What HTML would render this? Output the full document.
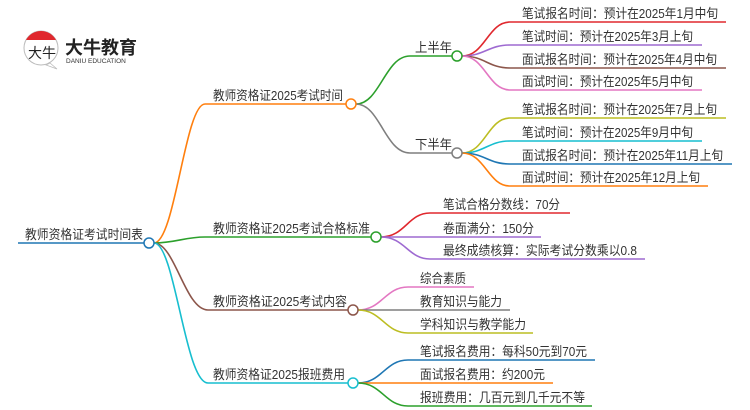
<!DOCTYPE html>
<html><head><meta charset="utf-8"><style>
html,body{margin:0;padding:0;background:#fff;}
svg{display:block;}
text{font-family:"Liberation Sans","Noto Sans CJK SC",sans-serif;fill:#333;}
</style></head><body>
<svg width="750" height="410" viewBox="0 0 750 410" xmlns="http://www.w3.org/2000/svg">
<!-- logo -->
<circle cx="41" cy="48" r="17" fill="#fff" stroke="#bbb" stroke-width="1"/>
<path d="M26,40 A17,17 0 0 1 56,40 Z" fill="#e0282e"/>
<path d="M50,63 L57,69 L46,65 Z" fill="#fff" stroke="#bbb" stroke-width="0.8"/>
<text x="28" y="58" font-size="14" style="fill:#222">大牛</text>
<text x="65" y="54" font-size="18" font-weight="bold" style="fill:#222">大牛教育</text>
<text x="66" y="63" font-size="6.5" style="fill:#333">DANIU EDUCATION</text>

<g fill="none" stroke-width="1.6">
<path d="M18,243 H144" stroke="#1f77b4"/>
<path d="M154,243 C175,243 185,104 205,104 H346" stroke="#ff7f0e"/>
<path d="M154,243 C175,243 185,237 205,237 H371" stroke="#2ca02c"/>
<path d="M154,243 C175,243 185,310 208,310 H348" stroke="#8c564b"/>
<path d="M154,243 C175,243 185,383 208,383 H348" stroke="#17becf"/>
<path d="M356,104 C380,104 385,56 410,56 H452" stroke="#2ca02c"/>
<path d="M356,104 C380,104 385,153 410,153 H452" stroke="#7f7f7f"/>
<path d="M462,56 C485,56 488,22 510,22 H726" stroke="#e0282e"/>
<path d="M462,56 C485,56 488,45 510,45 H702" stroke="#9e6ad1"/>
<path d="M462,56 C485,56 488,68 510,68 H726" stroke="#8c564b"/>
<path d="M462,56 C485,56 488,90 510,90 H702" stroke="#e377c2"/>
<path d="M462,153 C485,153 488,118 510,118 H726" stroke="#bcbd22"/>
<path d="M462,153 C485,153 488,141 510,141 H702" stroke="#17becf"/>
<path d="M462,153 C485,153 488,164 510,164 H732" stroke="#1f77b4"/>
<path d="M462,153 C485,153 488,186 510,186 H708" stroke="#ff7f0e"/>
<path d="M381,237 C405,237 408,213 430,213 H570" stroke="#e0282e"/>
<path d="M381,237 H541" stroke="#9e6ad1"/>
<path d="M381,237 C405,237 408,259 430,259 H645" stroke="#9e6ad1"/>
<path d="M358,310 C382,310 385,287 408,287 H474" stroke="#e377c2"/>
<path d="M358,310 H510" stroke="#7f7f7f"/>
<path d="M358,310 C382,310 385,333 408,333 H533" stroke="#bcbd22"/>
<path d="M358,383 C382,383 385,360 408,360 H595" stroke="#1f77b4"/>
<path d="M358,383 H553" stroke="#ff7f0e"/>
<path d="M358,383 C382,383 385,406 408,406 H592" stroke="#2ca02c"/>
</g>
<g fill="#fff" stroke-width="1.5">
<circle cx="149" cy="243" r="5" stroke="#1f77b4"/>
<circle cx="351" cy="104" r="5" stroke="#ff7f0e"/>
<circle cx="376" cy="237" r="5" stroke="#2ca02c"/>
<circle cx="353" cy="310" r="5" stroke="#8c564b"/>
<circle cx="353" cy="383" r="5" stroke="#17becf"/>
<circle cx="457" cy="56" r="5" stroke="#2ca02c"/>
<circle cx="457" cy="153" r="5" stroke="#7f7f7f"/>
</g>
<g font-size="13" lengthAdjust="spacingAndGlyphs">
<text x="25" y="239" textLength="118" lengthAdjust="spacingAndGlyphs">教师资格证考试时间表</text>
<text x="213" y="100" textLength="130" lengthAdjust="spacingAndGlyphs">教师资格证2025考试时间</text>
<text x="213" y="233" textLength="157" lengthAdjust="spacingAndGlyphs">教师资格证2025考试合格标准</text>
<text x="213" y="306" textLength="134" lengthAdjust="spacingAndGlyphs">教师资格证2025考试内容</text>
<text x="213" y="379" textLength="132" lengthAdjust="spacingAndGlyphs">教师资格证2025报班费用</text>
<text x="415" y="52" textLength="37" lengthAdjust="spacingAndGlyphs">上半年</text>
<text x="415" y="149" textLength="37" lengthAdjust="spacingAndGlyphs">下半年</text>
<text x="522" y="18" textLength="196" lengthAdjust="spacingAndGlyphs">笔试报名时间：预计在2025年1月中旬</text>
<text x="522" y="41" textLength="171" lengthAdjust="spacingAndGlyphs">笔试时间：预计在2025年3月上旬</text>
<text x="522" y="64" textLength="195" lengthAdjust="spacingAndGlyphs">面试报名时间：预计在2025年4月中旬</text>
<text x="522" y="86" textLength="171" lengthAdjust="spacingAndGlyphs">面试时间：预计在2025年5月中旬</text>
<text x="522" y="114" textLength="195" lengthAdjust="spacingAndGlyphs">笔试报名时间：预计在2025年7月上旬</text>
<text x="522" y="137" textLength="171" lengthAdjust="spacingAndGlyphs">笔试时间：预计在2025年9月中旬</text>
<text x="522" y="160" textLength="201" lengthAdjust="spacingAndGlyphs">面试报名时间：预计在2025年11月上旬</text>
<text x="522" y="182" textLength="178" lengthAdjust="spacingAndGlyphs">面试时间：预计在2025年12月上旬</text>
<text x="443" y="209" textLength="117" lengthAdjust="spacingAndGlyphs">笔试合格分数线：70分</text>
<text x="443" y="233" textLength="91" lengthAdjust="spacingAndGlyphs">卷面满分：150分</text>
<text x="443" y="255" textLength="194" lengthAdjust="spacingAndGlyphs">最终成绩核算：实际考试分数乘以0.8</text>
<text x="420" y="283" textLength="46" lengthAdjust="spacingAndGlyphs">综合素质</text>
<text x="420" y="306" textLength="82" lengthAdjust="spacingAndGlyphs">教育知识与能力</text>
<text x="420" y="329" textLength="106" lengthAdjust="spacingAndGlyphs">学科知识与教学能力</text>
<text x="420" y="356" textLength="167" lengthAdjust="spacingAndGlyphs">笔试报名费用：每科50元到70元</text>
<text x="420" y="379" textLength="125" lengthAdjust="spacingAndGlyphs">面试报名费用：约200元</text>
<text x="420" y="402" textLength="165" lengthAdjust="spacingAndGlyphs">报班费用：几百元到几千元不等</text>
</g>
</svg>
</body></html>
